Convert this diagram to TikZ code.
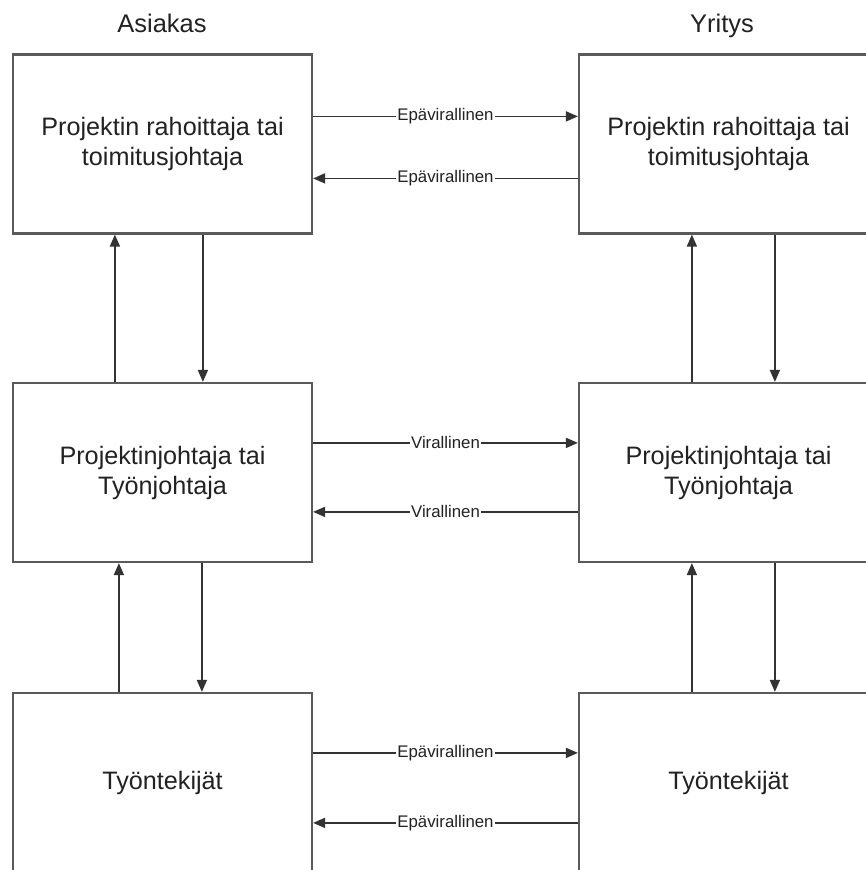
\documentclass[tikz,border=0pt]{standalone}
\usepackage{fontspec}
\setmainfont{Liberation Sans}
\usetikzlibrary{calc,arrows.meta}
\definecolor{boxline}{HTML}{5A5A5A}
\definecolor{arrline}{HTML}{333333}
\definecolor{txt}{HTML}{222222}
\begin{document}
\begin{tikzpicture}[x=1pt,y=-1pt,
  role/.style={draw=boxline, line width=2.2pt, fill=white, minimum width=299pt,
    minimum height=179pt, align=center, text=txt, inner sep=0pt,
    font=\fontsize{25.2}{30}\selectfont},
  title/.style={text=txt, anchor=base, font=\fontsize{25.5}{30}\selectfont},
  flow/.style={draw=arrline, line width=1.7pt,
    -{Triangle[length=12pt,width=10pt]}},
  lbl/.style={fill=white, text=txt, inner sep=1pt,
    font=\fontsize{16.8}{18}\selectfont}]
\useasboundingbox (0,0) rectangle (866,870);
\clip (0,0) rectangle (866,870);
\fill[white] (0,0) rectangle (866,870);

% column headings
\node[title] (hA) at (162,32) {Asiakas};
\node[title] (hY) at (722,32) {Yritys};

% customer side
\node[role] (L1) at (162.5,144) {Projektin rahoittaja tai\\toimitusjohtaja};
\node[role] (L2) at (162.5,472.5) {Projektinjohtaja tai\\Työnjohtaja};
\node[role] (L3) at (162.5,782.5) {Työntekijät};

% company side
\node[role] (R1) at (728.5,144) {Projektin rahoittaja tai\\toimitusjohtaja};
\node[role] (R2) at (728.5,472.5) {Projektinjohtaja tai\\Työnjohtaja};
\node[role] (R3) at (728.5,782.5) {Työntekijät};

% communication between the organisations
\draw[flow] ($(L1.north east)+(0,63)$) -- ($(R1.north west)+(0,63)$)
  node[midway,lbl] {Epävirallinen};
\draw[flow] ($(R1.north west)+(0,125)$) -- ($(L1.north east)+(0,125)$)
  node[midway,lbl] {Epävirallinen};
\draw[flow] ($(L2.north east)+(0,61)$) -- ($(R2.north west)+(0,61)$)
  node[midway,lbl] {Virallinen};
\draw[flow] ($(R2.north west)+(0,130)$) -- ($(L2.north east)+(0,130)$)
  node[midway,lbl] {Virallinen};
\draw[flow] ($(L3.north east)+(0,61)$) -- ($(R3.north west)+(0,61)$)
  node[midway,lbl] {Epävirallinen};
\draw[flow] ($(R3.north west)+(0,131)$) -- ($(L3.north east)+(0,131)$)
  node[midway,lbl] {Epävirallinen};

% reporting lines within the customer
\draw[flow] ($(L2.north west)+(103,0)$) -- ($(L1.south west)+(103,0)$);
\draw[flow] ($(L1.south west)+(191,0)$) -- ($(L2.north west)+(191,0)$);
\draw[flow] ($(L3.north west)+(107,0)$) -- ($(L2.south west)+(107,0)$);
\draw[flow] ($(L2.south west)+(190,0)$) -- ($(L3.north west)+(190,0)$);

% reporting lines within the company
\draw[flow] ($(R2.north west)+(114,0)$) -- ($(R1.south west)+(114,0)$);
\draw[flow] ($(R1.south west)+(197,0)$) -- ($(R2.north west)+(197,0)$);
\draw[flow] ($(R3.north west)+(114,0)$) -- ($(R2.south west)+(114,0)$);
\draw[flow] ($(R2.south west)+(197,0)$) -- ($(R3.north west)+(197,0)$);
\end{tikzpicture}
\end{document}
